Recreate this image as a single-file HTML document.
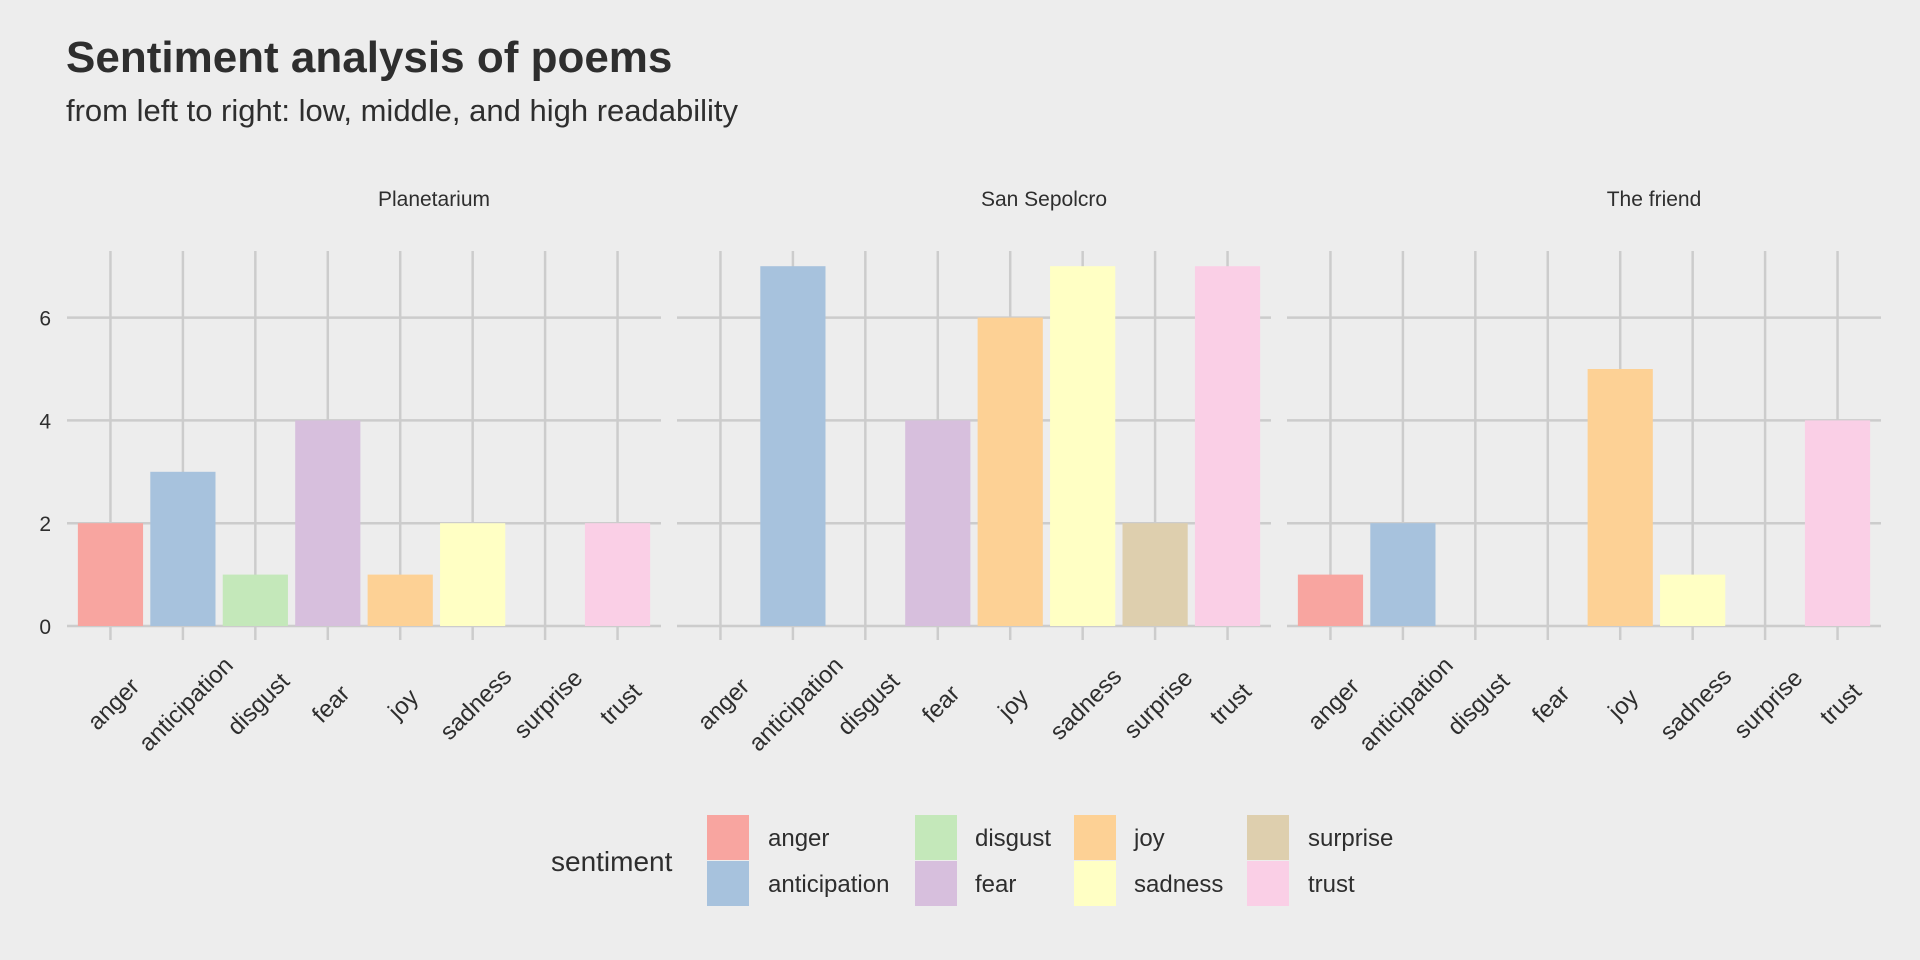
<!DOCTYPE html>
<html><head><style>body{margin:0;background:#ededed}svg{display:block}text{font-family:"Liberation Sans",sans-serif;fill:#2e2e2e}</style></head><body>
<svg width="1920" height="960" xmlns="http://www.w3.org/2000/svg">
<rect width="1920" height="960" fill="#ededed"/>
<text x="66" y="72" font-size="44" font-weight="bold" fill="#333">Sentiment analysis of poems</text>
<text x="66" y="121" font-size="31">from left to right: low, middle, and high readability</text>
<g id="panels"></g>
<text x="551" y="871" font-size="28">sentiment</text>
<g font-size="24">
<rect x="707" y="815" width="42" height="45" fill="#f8a5a0"/><text x="768" y="846">anger</text>
<rect x="707" y="861" width="42" height="45" fill="#a7c2dd"/><text x="768" y="892">anticipation</text>
<rect x="915" y="815" width="42" height="45" fill="#c4e8ba"/><text x="975" y="846">disgust</text>
<rect x="915" y="861" width="42" height="45" fill="#d7bfdd"/><text x="975" y="892">fear</text>
<rect x="1074" y="815" width="42" height="45" fill="#fdd195"/><text x="1134" y="846">joy</text>
<rect x="1074" y="861" width="42" height="45" fill="#ffffc4"/><text x="1134" y="892">sadness</text>
<rect x="1247" y="815" width="42" height="45" fill="#decfae"/><text x="1308" y="846">surprise</text>
<rect x="1247" y="861" width="42" height="45" fill="#facfe6"/><text x="1308" y="892">trust</text>
</g>
</svg>
<script>
(function(){
const cats=["anger","anticipation","disgust","fear","joy","sadness","surprise","trust"];
const cols=["#f8a5a0","#a7c2dd","#c4e8ba","#d7bfdd","#fdd195","#ffffc4","#decfae","#facfe6"];
const panels=[["Planetarium",67,[2,3,1,4,1,2,0,2]],["San Sepolcro",677,[0,7,0,4,6,7,2,7]],["The friend",1287,[1,2,0,0,5,1,0,4]]];
const W=594,y0=626,u=51.4,gtop=251,step=W/8.2;
let s="";
panels.forEach(function(p,pi){
 const name=p[0],x0=p[1],v=p[2];
 s+='<text x="'+(x0+W/2+70)+'" y="206" font-size="21" text-anchor="middle">'+name+'</text>';
 for(let k=0;k<=6;k+=2){const y=y0-k*u;s+='<line x1="'+x0+'" x2="'+(x0+W)+'" y1="'+y+'" y2="'+y+'" stroke="#cccccc" stroke-width="2.5"/>';
  if(pi==0)s+='<text x="'+(x0-16)+'" y="'+(y+8)+'" font-size="21" text-anchor="end">'+k+'</text>';}
 cats.forEach(function(c,i){const cx=x0+step*(0.6+i);
  s+='<line x1="'+cx+'" x2="'+cx+'" y1="'+gtop+'" y2="'+(y0+14)+'" stroke="#cccccc" stroke-width="2.5"/>';
  if(v[i]>0)s+='<rect x="'+(cx-step*0.45)+'" y="'+(y0-v[i]*u)+'" width="'+(step*0.9)+'" height="'+(v[i]*u)+'" fill="'+cols[i]+'"/>';
  s+='<text transform="translate('+(cx+3)+',704) rotate(-45)" dy="8" font-size="24" text-anchor="middle">'+c+'</text>';
 });
});
document.getElementById("panels").innerHTML=s;
})();
</script>
</body></html>
